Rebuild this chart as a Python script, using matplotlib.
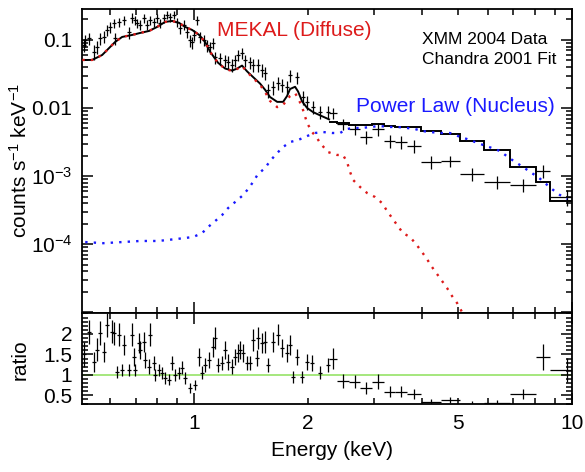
import numpy as np
import matplotlib
matplotlib.use('Agg')
import matplotlib.pyplot as plt
from matplotlib.ticker import FixedLocator, FuncFormatter, NullFormatter, MultipleLocator, LogLocator

plt.rcParams['font.family'] = ['Liberation Sans', 'DejaVu Sans']
plt.rcParams['mathtext.fontset'] = 'custom'
plt.rcParams['mathtext.rm'] = 'Liberation Sans'
plt.rcParams['mathtext.it'] = 'Liberation Sans:italic'
plt.rcParams['mathtext.bf'] = 'Liberation Sans:bold'

# --- data ---
# low energy data (narrow bins)
lo_e = [0.512, 0.515, 0.527, 0.544, 0.554, 0.564, 0.578, 0.589, 0.600, 0.614,
        0.618, 0.634, 0.653, 0.673, 0.686, 0.698, 0.707, 0.720, 0.738, 0.751,
        0.765, 0.784, 0.798, 0.813, 0.833, 0.849, 0.864, 0.885, 0.902, 0.918,
        0.941, 0.958, 0.976, 0.988, 1.000, 1.018, 1.037, 1.063, 1.082, 1.102,
        1.123, 1.137, 1.172, 1.208, 1.230, 1.260, 1.284, 1.307, 1.339, 1.365,
        1.406, 1.432, 1.476, 1.513, 1.541, 1.570, 1.618, 1.667, 1.709, 1.762,
        1.794, 1.873, 1.942, 1.991, 2.064, 2.154, 2.262]
lo_counts = [0.0845, 0.100, 0.107, 0.0667, 0.0789, 0.107, 0.111, 0.140, 0.155, 0.178,
             0.107, 0.184, 0.197, 0.131, 0.211, 0.197, 0.178, 0.166, 0.211, 0.166,
             0.197, 0.184, 0.211, 0.178, 0.211, 0.233, 0.218, 0.233, 0.184, 0.150,
             0.166, 0.131, 0.100, 0.0935, 0.118, 0.197, 0.111, 0.100, 0.0845, 0.0789,
             0.0904, 0.0562, 0.0543, 0.0508, 0.0475, 0.0429, 0.0508, 0.0601, 0.0644, 0.0508,
             0.0475, 0.0429, 0.0429, 0.0362, 0.0327, 0.0184, 0.0204, 0.0233, 0.0218, 0.0204,
             0.0306, 0.0286, 0.0145, 0.0123, 0.0104, 0.00873, 0.00873]
lo_frac = [0.22, 0.20, 0.20, 0.25, 0.22, 0.20, 0.20, 0.18, 0.18, 0.16,
           0.20, 0.16, 0.16, 0.20, 0.16, 0.16, 0.16, 0.17, 0.15, 0.17,
           0.15, 0.16, 0.15, 0.16, 0.15, 0.14, 0.15, 0.14, 0.16, 0.18,
           0.17, 0.19, 0.20, 0.20, 0.18, 0.15, 0.18, 0.19, 0.20, 0.20,
           0.19, 0.20, 0.20, 0.20, 0.21, 0.21, 0.20, 0.19, 0.19, 0.20,
           0.20, 0.21, 0.21, 0.22, 0.22, 0.24, 0.23, 0.22, 0.22, 0.22,
           0.20, 0.20, 0.24, 0.24, 0.22, 0.22, 0.22]
LOW_HW = 0.012  # relative half width of the narrow bins

# high energy data (wide bins)
hi_edges = [2.276, 2.389, 2.570, 2.749, 2.958, 3.183, 3.403, 3.66, 3.985, 4.50,
            5.05, 5.85, 6.85, 8.03, 8.74, 10.76]
hi_counts = [8.44e-3, 5.82e-3, 4.91e-3, 3.75e-3, 4.91e-3, 3.27e-3, 3.16e-3, 2.76e-3,
             1.61e-3, 1.66e-3, 1.07e-3, 8.17e-4, 7.38e-4, 1.19e-3, 4.91e-4]
hi_frac = [0.19, 0.19, 0.19, 0.22, 0.22, 0.22, 0.22, 0.22, 0.22, 0.19, 0.22, 0.22,
           0.22, 0.22, 0.27]
hi_model = [6.22e-3, 6.01e-3, 5.62e-3, 5.62e-3, 5.82e-3, 5.44e-3, 5.26e-3, 5.26e-3,
            4.59e-3, 4.15e-3, 3.27e-3, 2.41e-3, 1.36e-3, 8.17e-4, 4.29e-4]
hi_ratio = [1.40, 0.85, 0.83, 0.68, 0.83, 0.59, 0.59, 0.54, 0.33, 0.39, 0.30, 0.32,
            0.54, 1.44, 1.12]

# total model below the wide bins
model_e = [0.506, 0.537, 0.571, 0.596, 0.618, 0.645, 0.686, 0.720, 0.760, 0.798,
           0.838, 0.875, 0.913, 0.947, 0.988, 1.031, 1.069, 1.103, 1.157, 1.208,
           1.261, 1.300, 1.339, 1.381, 1.432, 1.495, 1.541, 1.588, 1.659, 1.720,
           1.762, 1.794, 1.850, 1.884, 1.931, 1.991, 2.064, 2.154, 2.276]
model = [0.0508, 0.0508, 0.0601, 0.0763, 0.0935, 0.1107, 0.1185, 0.1268, 0.1356, 0.1553,
         0.1841, 0.1902, 0.1778, 0.1553, 0.1403, 0.1185, 0.0935, 0.0667, 0.0462, 0.0380,
         0.0355, 0.0380, 0.0420, 0.0345, 0.0285, 0.0228, 0.0185, 0.0145, 0.0123, 0.0123,
         0.0150, 0.0190, 0.0205, 0.0175, 0.0125, 0.0100, 0.0087, 0.0078, 0.0068]

# MEKAL component
mekal_e = [0.506, 0.537, 0.571, 0.596, 0.618, 0.645, 0.686, 0.720, 0.760, 0.798,
           0.838, 0.875, 0.913, 0.947, 0.988, 1.031, 1.069, 1.103, 1.157, 1.208,
           1.261, 1.300, 1.339, 1.381, 1.432, 1.495, 1.541, 1.588, 1.659, 1.720,
           1.794, 1.850, 1.884, 1.931, 1.991, 2.052, 2.115, 2.154, 2.261, 2.388,
           2.477, 2.539, 2.586, 2.635, 2.750, 2.870, 3.013, 3.142, 3.243, 3.342,
           3.446, 3.570, 3.726, 3.866, 4.010, 4.132, 4.262, 4.395, 4.531, 4.670,
           4.815, 4.964, 5.117]
mekal = [0.0508, 0.0508, 0.0601, 0.0763, 0.0935, 0.1107, 0.1185, 0.1268, 0.1356, 0.1553,
         0.1841, 0.1902, 0.1778, 0.1553, 0.1403, 0.1185, 0.0935, 0.0667, 0.0459, 0.0375,
         0.0350, 0.0375, 0.0415, 0.0338, 0.0276, 0.0218, 0.0172, 0.0127, 0.0103, 0.0111,
         0.0150, 0.0165, 0.0140, 0.0103, 0.0060, 0.00443, 0.00362, 0.00306, 0.00225, 0.00204,
         0.00204, 0.00161, 0.00115, 0.000874, 0.000689, 0.000562, 0.000491, 0.000401, 0.000305, 0.000241,
         0.000190, 0.000145, 0.000127, 0.000100, 7.62e-5, 6.02e-5, 4.59e-5, 3.62e-5, 2.86e-5, 2.26e-5,
         1.72e-5, 1.36e-5, 1.0e-5]

# power law component
pl_e = [0.515, 0.575, 0.645, 0.720, 0.803, 0.902, 0.994, 1.050, 1.089, 1.137,
        1.186, 1.230, 1.284, 1.339, 1.390, 1.432, 1.476, 1.541, 1.588, 1.659,
        1.720, 1.794, 1.884, 1.991, 2.090, 2.195, 2.317, 2.433, 2.539, 2.635,
        2.784, 2.922, 3.10, 3.26, 3.45, 3.66, 3.84, 4.01, 4.21, 4.48,
        4.75, 4.99, 5.27, 5.54, 5.82, 6.14, 6.45, 6.77, 7.07, 7.42,
        7.74, 8.13, 8.48, 8.85, 9.29, 9.70]
pl = [1.07e-4, 1.03e-4, 1.07e-4, 1.11e-4, 1.11e-4, 1.19e-4, 1.27e-4, 1.45e-4, 1.78e-4, 2.18e-4,
      2.67e-4, 3.38e-4, 4.15e-4, 5.08e-4, 6.44e-4, 8.17e-4, 1.07e-3, 1.31e-3, 1.66e-3, 2.18e-3,
      2.67e-3, 3.16e-3, 3.38e-3, 3.87e-3, 4.29e-3, 4.43e-3, 4.29e-3, 4.29e-3, 4.91e-3, 5.08e-3,
      5.08e-3, 5.26e-3, 5.44e-3, 5.26e-3, 5.26e-3, 5.08e-3, 4.91e-3, 4.59e-3, 4.43e-3, 4.29e-3,
      4.29e-3, 3.87e-3, 3.50e-3, 3.16e-3, 2.86e-3, 2.58e-3, 2.33e-3, 1.90e-3, 1.61e-3, 1.36e-3,
      1.15e-3, 9.67e-4, 7.89e-4, 6.44e-4, 5.26e-4, 4.59e-4]

# ratio panel, narrow bins
r_lo_e = [0.512, 0.527, 0.544, 0.554, 0.564, 0.578, 0.589, 0.607, 0.614, 0.626,
          0.634, 0.645, 0.653, 0.673, 0.686, 0.694, 0.698, 0.715, 0.720, 0.738,
          0.743, 0.760, 0.765, 0.784, 0.788, 0.808, 0.823, 0.838, 0.859, 0.875,
          0.891, 0.913, 0.930, 0.947, 0.976, 1.006, 1.031, 1.050, 1.069, 1.096,
          1.123, 1.137, 1.157, 1.186, 1.208, 1.230, 1.260, 1.284, 1.307, 1.323,
          1.348, 1.381, 1.406, 1.432, 1.468, 1.476, 1.513, 1.541, 1.570, 1.618,
          1.667, 1.709, 1.762, 1.794, 1.828, 1.873, 1.931, 1.991, 2.052, 2.154,
          2.261]
r_lo = [1.50, 2.05, 1.32, 1.61, 2.02, 1.56, 2.22, 2.05, 2.02, 1.07,
        1.98, 1.12, 1.73, 1.12, 1.98, 1.44, 1.12, 1.78, 1.61, 1.80,
        1.37, 1.20, 1.98, 1.29, 1.00, 1.12, 1.05, 0.93, 0.88, 1.29,
        1.00, 1.05, 1.17, 0.93, 0.68, 0.76, 1.44, 1.05, 1.24, 1.37,
        1.68, 1.90, 1.24, 1.29, 1.61, 1.32, 1.20, 1.44, 1.54, 1.61,
        1.54, 1.29, 1.29, 1.85, 1.41, 1.90, 1.78, 1.80, 1.24, 1.80,
        1.98, 1.66, 1.54, 1.73, 0.95, 1.44, 0.95, 1.32, 1.29, 1.05,
        1.24]
r_lo_err = [0.30, 0.30, 0.25, 0.28, 0.30, 0.25, 0.30, 0.28, 0.28, 0.15,
            0.28, 0.15, 0.25, 0.15, 0.28, 0.22, 0.15, 0.25, 0.22, 0.25,
            0.20, 0.18, 0.28, 0.18, 0.15, 0.15, 0.15, 0.14, 0.13, 0.18,
            0.14, 0.15, 0.16, 0.14, 0.12, 0.12, 0.22, 0.16, 0.18, 0.20,
            0.24, 0.26, 0.18, 0.18, 0.22, 0.20, 0.18, 0.20, 0.22, 0.22,
            0.22, 0.18, 0.18, 0.26, 0.20, 0.26, 0.24, 0.26, 0.18, 0.24,
            0.26, 0.22, 0.22, 0.24, 0.15, 0.20, 0.15, 0.20, 0.20, 0.16,
            0.18]

# --- figure ---
W, H = 585, 472
fig = plt.figure(figsize=(W / 100, H / 100), dpi=100)
ax = fig.add_axes([82 / W, 1 - 313 / H, 490 / W, 304 / H])
rax = fig.add_axes([82 / W, 1 - 404 / H, 490 / W, 91 / H], sharex=ax)

lo_e_a = np.array(lo_e)
lo_c_a = np.array(lo_counts)
edges = np.array(hi_edges)
hi_c = np.sqrt(edges[:-1] * edges[1:])
hi_xerr = [hi_c - edges[:-1], edges[1:] - hi_c]

ekw = dict(fmt='none', ecolor='black', elinewidth=0.9, capsize=0)
ax.errorbar(lo_e_a, lo_c_a, xerr=lo_e_a * LOW_HW, yerr=lo_c_a * np.array(lo_frac), **ekw)
ax.errorbar(hi_c, hi_counts, xerr=hi_xerr,
            yerr=np.array(hi_counts) * np.array(hi_frac), **ekw)

ax.plot(model_e, model, color='black', lw=1.4, zorder=3)
ax.stairs(hi_model, edges, color='black', lw=1.4, baseline=None, zorder=3)
ax.plot(mekal_e, mekal, color='#dd1a1a', lw=1.7, ls=(0, (1, 2.6)), zorder=4)
ax.plot(pl_e, pl, color='#1a1aff', lw=1.7, ls=(0, (1, 2.6)), zorder=4)

ax.set_xscale('log')
ax.set_yscale('log')
ax.set_xlim(0.505, 10)
ax.set_ylim(9.7e-6, 0.285)

ylabels = {0.1: '0.1', 0.01: '0.01', 1e-3: '$10^{-3}$', 1e-4: '$10^{-4}$'}
ax.yaxis.set_major_locator(FixedLocator([1e-5, 1e-4, 1e-3, 1e-2, 1e-1]))
ax.yaxis.set_major_formatter(FuncFormatter(
    lambda v, p: next((s for k, s in ylabels.items() if abs(v / k - 1) < 1e-3), '')))
ax.yaxis.set_minor_locator(LogLocator(base=10, subs=np.arange(2, 10)))
ax.yaxis.set_minor_formatter(NullFormatter())

xmajor = [1, 10]
xminor = [0.6, 0.7, 0.8, 0.9, 2, 3, 4, 5, 6, 7, 8, 9]
for a in (ax, rax):
    a.xaxis.set_major_locator(FixedLocator(xmajor))
    a.xaxis.set_minor_locator(FixedLocator(xminor))
    a.tick_params(which='both', direction='in', top=True, right=True, width=1.1,
                  labelsize=15)
    a.tick_params(which='major', length=8)
    a.tick_params(which='minor', length=4)
    for s in a.spines.values():
        s.set_linewidth(1.3)
ax.tick_params(axis='x', which='both', labelbottom=False)
ax.tick_params(axis='y', pad=7)

rax.xaxis.set_major_formatter(FuncFormatter(lambda v, p: '%g' % v))
rax.xaxis.set_minor_formatter(FuncFormatter(lambda v, p: '%g' % v if v in (2, 5) else ''))
rax.tick_params(axis='x', which='both', pad=7)

rax.errorbar(r_lo_e, r_lo, xerr=np.array(r_lo_e) * LOW_HW, yerr=r_lo_err, **ekw)
rax.errorbar(hi_c, hi_ratio, xerr=hi_xerr,
             yerr=np.array(hi_ratio) * np.array(hi_frac), **ekw)
rax.axhline(1, color='#8de05a', lw=1.1, zorder=1)
rax.set_ylim(0.29, 2.51)
rax.yaxis.set_major_locator(FixedLocator([0.5, 1, 1.5, 2]))
rax.yaxis.set_major_formatter(FuncFormatter(lambda v, p: '%g' % v))
rax.yaxis.set_minor_locator(MultipleLocator(0.1))
rax.tick_params(axis='y', pad=7)

fig.text(20 / W, 1 - 160 / H, 'counts s$^{-1}$ keV$^{-1}$', rotation=90,
         ha='center', va='center', fontsize=15)
fig.text(20 / W, 1 - 360 / H, 'ratio', rotation=90, ha='center', va='center', fontsize=15)
fig.text(332 / W, 1 - 451 / H, 'Energy (keV)', ha='center', va='center', fontsize=15)

fig.text(217 / W, 1 - 30 / H, 'MEKAL (Diffuse)', color='#dd1a1a', ha='left',
         va='center', fontsize=15)
fig.text(356 / W, 1 - 107 / H, 'Power Law (Nucleus)', color='#1a1aff', ha='left',
         va='center', fontsize=15)
fig.text(422 / W, 1 - 39 / H, 'XMM 2004 Data', ha='left', va='center', fontsize=12.5)
fig.text(422 / W, 1 - 59 / H, 'Chandra 2001 Fit', ha='left', va='center', fontsize=12.5)

fig.savefig('out.png', dpi=100)
